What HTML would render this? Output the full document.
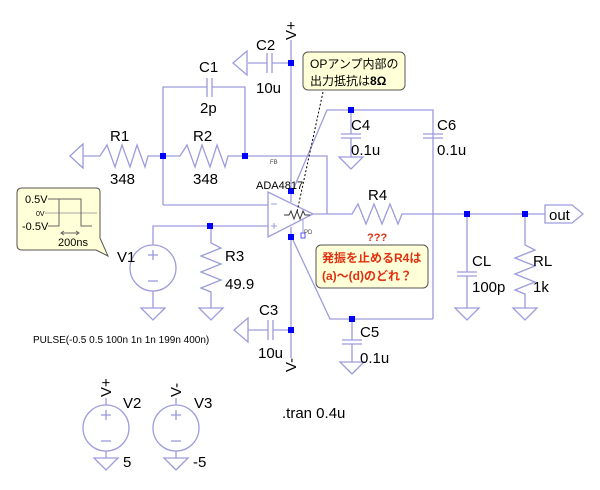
<!DOCTYPE html>
<html><head><meta charset="utf-8"><style>
html,body{margin:0;padding:0;background:#fff;}
svg{display:block;font-family:"Liberation Sans","Noto Sans CJK JP",sans-serif;}
</style></head><body>
<svg width="600" height="490" viewBox="0 0 600 490" xmlns="http://www.w3.org/2000/svg">
<g fill="none" stroke="#9c9cdc" stroke-width="1.3">
<!-- V+ rail -->
<line x1="291" y1="40" x2="291" y2="192"/>
<!-- C2 -->
<line x1="248" y1="63" x2="267" y2="63"/><line x1="272" y1="63" x2="291" y2="63"/>
<line x1="267" y1="53" x2="267" y2="73"/><line x1="272" y1="53" x2="272" y2="73"/>
<polygon points="233,63 247,51 247,75"/>
<!-- C1 loop -->
<polyline points="163,205 163,87 207,87"/><polyline points="212,87 245,87 245,156"/>
<line x1="207" y1="78" x2="207" y2="97"/><line x1="212" y1="78" x2="212" y2="97"/>
<line x1="163" y1="205" x2="268" y2="205"/>
<!-- R1 -->
<polygon points="70,156 83,144 83,168"/>
<polyline points="83,156 100,156 107,145 115,167 122,145 130,167 137,145 145,167 148,156 163,156"/>
<!-- R2 -->
<polyline points="163,156 180,156 187,145 195,167 202,145 210,167 217,145 225,167 228,156 245,156"/>
<!-- FB -->
<polyline points="245,156 327,156 327,214"/>
<!-- opamp -->
<polygon points="268,192 268,237 313,214"/>
<line x1="291" y1="192" x2="291" y2="202"/>
<line x1="291" y1="227" x2="291" y2="237"/>
<!-- + input -->
<polyline points="153,245 153,226 268,226"/>
<!-- output R4 -->
<polyline points="313,214 352,214 358,204 366,224 374,204 382,224 390,204 398,224 402,214 545,214"/>
<!-- C4/C6 top -->
<polyline points="293,190 327,110 433,110 433,319"/>
<line x1="351" y1="110" x2="351" y2="134"/><line x1="341" y1="134" x2="361" y2="134"/><line x1="341" y1="138" x2="361" y2="138"/><line x1="351" y1="138" x2="351" y2="157"/>
<polygon points="339,157 363,157 351,169"/>
<line x1="423" y1="134" x2="443" y2="134"/><line x1="423" y1="138" x2="443" y2="138"/>
<!-- V- rail -->
<line x1="291" y1="237" x2="291" y2="358"/>
<polyline points="293,240 330,319 433,319"/>
<line x1="352" y1="319" x2="352" y2="340"/><line x1="342" y1="340" x2="362" y2="340"/><line x1="342" y1="344" x2="362" y2="344"/><line x1="352" y1="344" x2="352" y2="362"/>
<polygon points="340,362 364,362 352,374"/>
<!-- C3 -->
<line x1="248" y1="330" x2="268" y2="330"/><line x1="273" y1="330" x2="291" y2="330"/>
<line x1="268" y1="320" x2="268" y2="340"/><line x1="273" y1="320" x2="273" y2="340"/>
<polygon points="234,330 248,318 248,342"/>
<!-- CL -->
<line x1="467" y1="214" x2="467" y2="272"/><line x1="457" y1="272" x2="477" y2="272"/><line x1="457" y1="276" x2="477" y2="276"/><line x1="467" y1="276" x2="467" y2="308"/>
<polygon points="455,308 479,308 467,320"/>
<!-- RL -->
<polyline points="525,214 525,245 535,250 515,258 535,266 515,274 535,282 515,290 525,294 525,308"/>
<polygon points="513,308 537,308 525,320"/>
<!-- out -->
<polygon points="545,205 572,205 583,214 572,223 545,223"/>
<!-- V1 -->
<circle cx="153" cy="268" r="23"/>
<line x1="153" y1="291" x2="153" y2="308"/><polygon points="141,308 165,308 153,320"/>
<line x1="148" y1="255" x2="158" y2="255"/><line x1="153" y1="250" x2="153" y2="260"/><line x1="148" y1="281" x2="158" y2="281"/>
<!-- R3 -->
<polyline points="211,226 211,243 221,248 201,256 221,264 201,272 221,280 201,288 211,292 211,308"/>
<polygon points="199,308 223,308 211,320"/>
<!-- V2 V3 -->
<circle cx="106" cy="428" r="23"/><line x1="106" y1="398" x2="106" y2="405"/><line x1="106" y1="451" x2="106" y2="458"/><polygon points="94,458 118,458 106,470"/>
<line x1="101" y1="415" x2="111" y2="415"/><line x1="106" y1="410" x2="106" y2="420"/><line x1="101" y1="441" x2="111" y2="441"/>
<circle cx="176" cy="428" r="23"/><line x1="176" y1="398" x2="176" y2="405"/><line x1="176" y1="451" x2="176" y2="458"/><polygon points="164,458 188,458 176,470"/>
<line x1="171" y1="415" x2="181" y2="415"/><line x1="176" y1="410" x2="176" y2="420"/><line x1="171" y1="441" x2="181" y2="441"/>
</g>
<!-- opamp inner -->
<g fill="none" stroke="#333" stroke-width="1">
<polyline points="284,215 289,215 291,211 294,219 297,211 300,219 303,211 305,215 310,215"/>
<line x1="271" y1="204" x2="277" y2="204" stroke="#9c9cdc"/>
<line x1="271" y1="226" x2="277" y2="226" stroke="#9c9cdc"/><line x1="274" y1="223" x2="274" y2="229" stroke="#9c9cdc"/>
</g>
<rect x="301" y="233" width="4" height="5" fill="none" stroke="#55f" stroke-width="1"/>
<line x1="303" y1="220" x2="303" y2="233" stroke="#9c9cdc" stroke-width="1"/>
<!-- junctions -->
<g fill="#0000ff">
<rect x="288" y="60" width="6" height="6"/><rect x="160" y="153" width="6" height="6"/><rect x="242" y="153" width="6" height="6"/>
<rect x="288" y="188" width="6" height="6"/><rect x="288" y="234" width="6" height="6"/><rect x="207" y="223" width="6" height="6"/>
<rect x="348" y="107" width="6" height="6"/><rect x="349" y="316" width="6" height="6"/><rect x="288" y="327" width="6" height="6"/>
<rect x="464" y="211" width="6" height="6"/><rect x="522" y="211" width="6" height="6"/>
</g>
<!-- dotted line -->
<line x1="323" y1="92" x2="297" y2="212" stroke="#000" stroke-width="1" stroke-dasharray="2,2"/>
<!-- callouts -->
<rect x="303" y="52" width="102" height="38" rx="5" fill="#ffffd8" stroke="#555"/>
<text x="310" y="68" font-size="12" fill="#000">OPアンプ内部の</text>
<text x="310" y="85" font-size="12" fill="#000">出力抵抗は<tspan font-weight="bold">8Ω</tspan></text>
<rect x="316" y="245" width="112" height="43" rx="5" fill="#ffffd8" stroke="#555"/>
<text x="322" y="262" font-size="12" font-weight="bold" fill="#e03010">発振を止めるR4は</text>
<text x="322" y="280" font-size="12" font-weight="bold" fill="#e03010">(a)〜(d)のどれ？</text>
<path d="M22,188 H96 Q100,188 100,192 V238 L108,256 L96,250 H22 Q17,250 17,245 V193 Q17,188 22,188 Z" fill="#ffffd8" stroke="#555"/>
<g stroke="#666" stroke-width="1" fill="none">
<line x1="48" y1="199" x2="59" y2="199"/><line x1="45" y1="213" x2="97" y2="213" stroke="#aaa"/>
<polyline points="48,226 59,226 59,199 81,199 81,226 92,226"/>
<line x1="61" y1="233" x2="79" y2="233"/><polyline points="64,231 61,233 64,235"/><polyline points="76,231 79,233 76,235"/>
</g>
<g fill="#000">
<text x="25" y="203" font-size="11">0.5V</text>
<text x="36" y="216" font-size="7">0V</text>
<text x="22" y="230" font-size="11">-0.5V</text>
<text x="58" y="246" font-size="11">200ns</text>
</g>
<!-- labels -->
<g fill="#000" font-size="15">
<text x="256" y="50">C2</text><text x="256" y="93">10u</text>
<text x="199" y="72">C1</text><text x="200" y="113">2p</text>
<text x="110" y="141">R1</text><text x="110" y="184">348</text>
<text x="193" y="141">R2</text><text x="193" y="184">348</text>
<text x="351" y="130">C4</text><text x="351" y="155">0.1u</text>
<text x="437" y="130">C6</text><text x="437" y="155">0.1u</text>
<text x="368" y="200">R4</text>
<text x="117" y="262">V1</text>
<text x="225" y="261">R3</text><text x="225" y="289">49.9</text>
<text x="472" y="266">CL</text><text x="472" y="292">100p</text>
<text x="533" y="266">RL</text><text x="533" y="292">1k</text>
<text x="259" y="315">C3</text><text x="258" y="358">10u</text>
<text x="360" y="337">C5</text><text x="360" y="363">0.1u</text>
<text x="123" y="408">V2</text><text x="194" y="408">V3</text>
<text x="123" y="467">5</text><text x="193" y="467">-5</text>
<text x="282" y="418">.tran 0.4u</text>
<text x="549" y="220">out</text>
<text transform="translate(296,40) rotate(-90)">V+</text>
<text transform="translate(296,372) rotate(-90)">V-</text>
<text transform="translate(111,397) rotate(-90)">V+</text>
<text transform="translate(181,397) rotate(-90)">V-</text>
</g>
<text x="256" y="189" font-size="11" fill="#000">ADA4817</text>
<text x="270" y="164" font-size="6" fill="#444">FB</text>
<text x="304" y="234" font-size="6" fill="#444">PD</text>
<text x="367" y="241" font-size="11" font-weight="bold" fill="#e03010">???</text>
<text x="33" y="343" font-size="10" fill="#000">PULSE(-0.5 0.5 100n 1n 1n 199n 400n)</text>
</svg>
</body></html>
